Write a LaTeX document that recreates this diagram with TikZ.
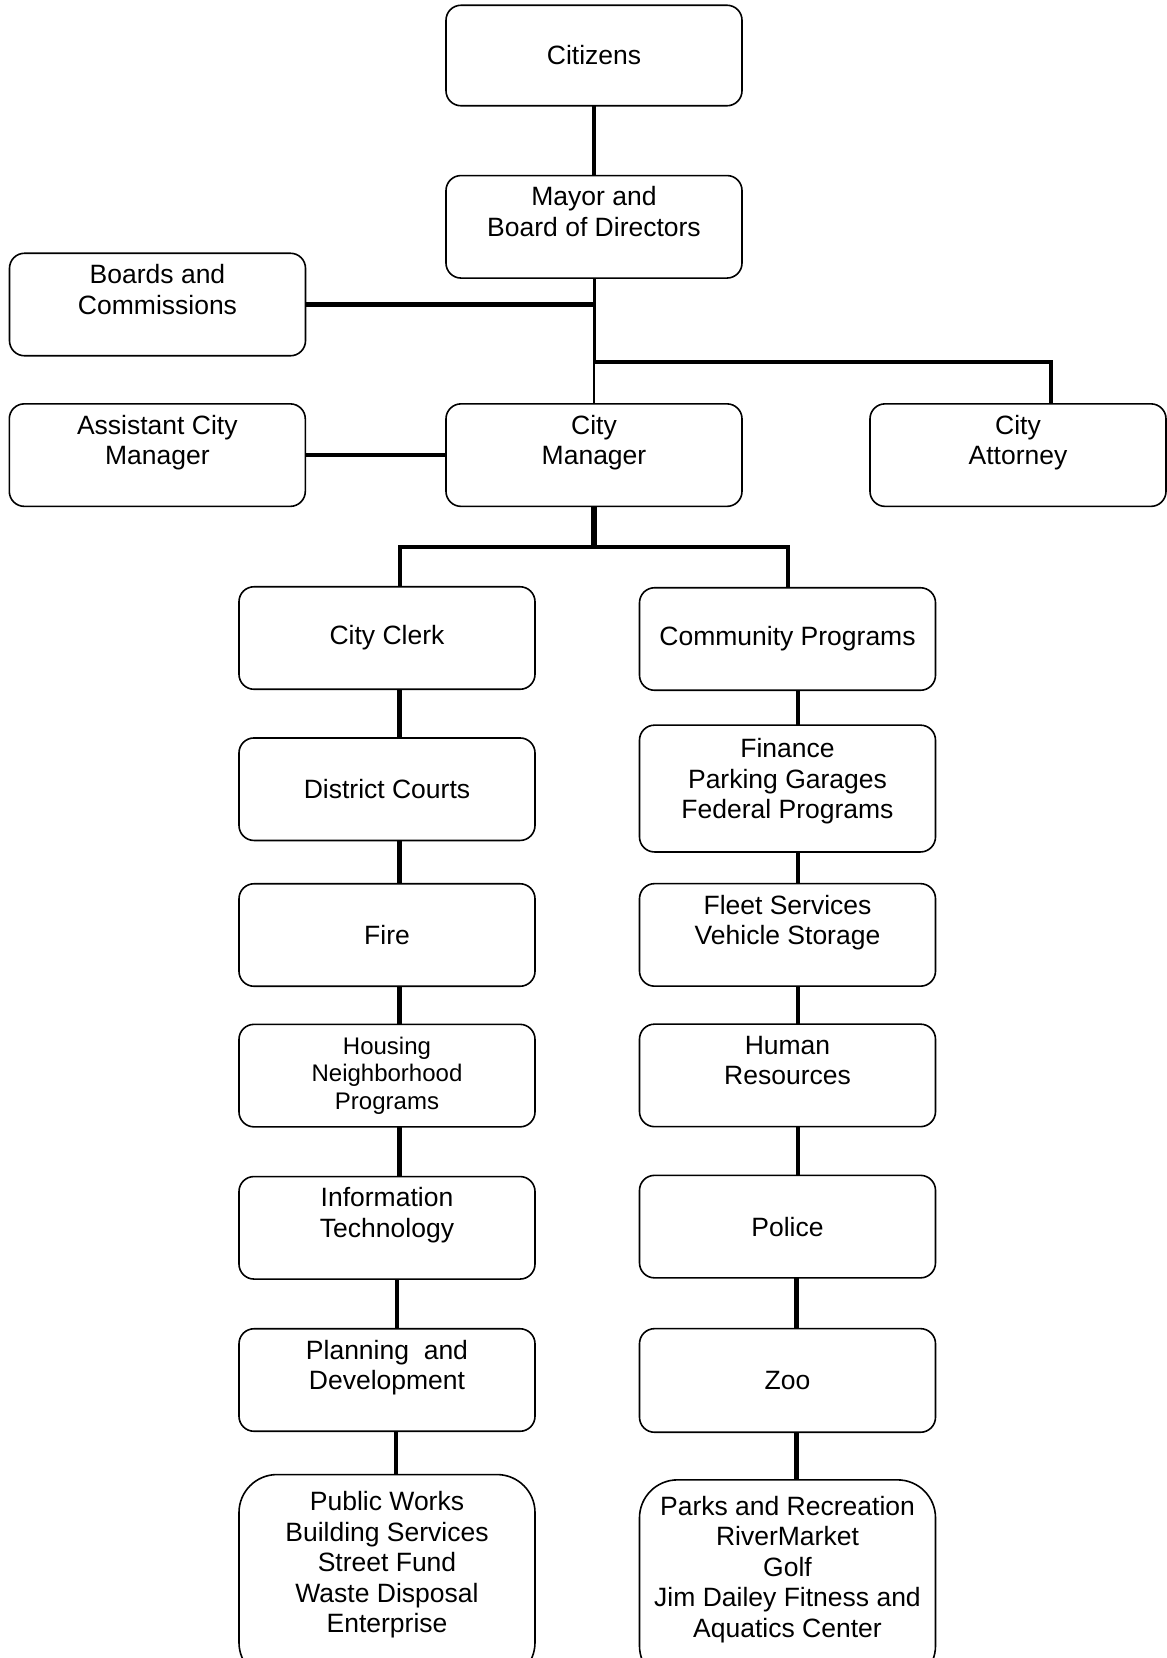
\documentclass[tikz,border=0pt]{standalone}
\usepackage{fontspec}
\setmainfont{Liberation Sans}
\usetikzlibrary{positioning}
\tikzstyle{unit}=[rectangle,rounded corners=15pt,draw=black,line width=1.6pt,align=center,minimum width=296pt,minimum height=102.5pt,inner sep=2pt,outer sep=0pt,font=\fontsize{26.5}{30.5}\selectfont]
\tikzstyle{bigunit}=[unit,rounded corners=38pt,minimum height=206pt]
\tikzstyle{link}=[line width=4.5pt]

\begin{document}
\begin{tikzpicture}[x=1pt,y=-1pt]
    \useasboundingbox (0,0) rectangle (1167,1658);
    \clip (0,0) rectangle (1167,1658);

    % Spitze
    \node[unit, minimum height=100.5pt] (citizens) at (594,55.5) {Citizens};
    \node[unit] (mayor) [below=69.8pt of citizens] {Mayor and\\Board of Directors\\~};
    \node[unit] (manager) [below=125.8pt of mayor] {City\\Manager\\~};
    \node[unit] (boards) at (157.5,304.5) {Boards and\\Commissions\\~};
    \node[unit] (assistant) [left=140.7pt of manager] {Assistant City\\Manager\\~};
    \node[unit] (attorney) [right=128pt of manager] {City\\Attorney\\~};

    % linke Spalte
    \node[unit] (clerk) at (387,638) {City Clerk};
    \node[unit] (courts) [below=48.7pt of clerk] {District Courts};
    \node[unit] (fire) [below=43.3pt of courts] {Fire};
    \node[unit, font=\fontsize{24}{27.6}\selectfont] (housing) [below=38.1pt of fire] {Housing\\Neighborhood\\Programs};
    \node[unit] (infotech) [below=49.7pt of housing] {Information\\Technology\\~};
    \node[unit] (planning) [below=49.7pt of infotech] {Planning\ \ and\\Development\\~};
    \node[bigunit] (works) [below=43.3pt of planning] {Public Works\\Building Services\\Street Fund\\Waste Disposal\\Enterprise\\~};

    % rechte Spalte
    \node[unit] (community) at (787.5,639) {Community Programs};
    \node[unit, minimum height=126.8pt] (finance) [below=34.9pt of community] {Finance\\Parking Garages\\Federal Programs\\[-11pt]~};
    \node[unit] (fleet) [below=31.7pt of finance] {Fleet Services\\Vehicle Storage\\~};
    \node[unit] (hr) [below=38pt of fleet] {Human\\Resources\\~};
    \node[unit] (police) [below=48.7pt of hr] {Police};
    \node[unit, minimum height=103.6pt] (zoo) [below=50.8pt of police] {Zoo};
    \node[bigunit, minimum height=204pt] (parks) [below=47.6pt of zoo] {Parks and Recreation\\RiverMarket\\Golf\\Jim Dailey Fitness and\\Aquatics Center\\~};

    % Verbindungen oben
    \coordinate (split) at ([yshift=-83.5pt]mayor.south);
    \coordinate (fork) at ([yshift=-41pt]manager.south);
    \draw [line width=4pt] (citizens) -- (mayor);
    \draw [line width=3pt] (mayor.south) -- (split);
    \draw [link] (boards.east) -- (boards.east -| mayor.south);
    \draw [line width=4pt] (split) -| ([xshift=33pt]attorney.north);
    \draw [line width=2pt] (split) -- (manager.north);
    \draw [link] (assistant) -- (manager);
    \draw [line width=5.5pt] (manager.south) -- (fork);
    \draw [line width=4pt] ([xshift=12.6pt]clerk.north) |- (fork) -| (community.north);

    % Verbindungen links
    \draw [link] ([xshift=12.6pt]clerk.south) -- ([xshift=12.6pt]courts.north);
    \draw [link] ([xshift=12.6pt]courts.south) -- ([xshift=12.6pt]fire.north);
    \draw [link] ([xshift=12.6pt]fire.south) -- ([xshift=12.6pt]housing.north);
    \draw [link] ([xshift=12.6pt]housing.south) -- ([xshift=12.6pt]infotech.north);
    \draw [link] ([xshift=10pt]infotech.south) -- ([xshift=10pt]planning.north);
    \draw [link] ([xshift=9pt]planning.south) -- ([xshift=9pt]works.north);

    % Verbindungen rechts
    \draw [link] ([xshift=10.5pt]community.south) -- ([xshift=10.5pt]finance.north);
    \draw [link] ([xshift=10.5pt]finance.south) -- ([xshift=10.5pt]fleet.north);
    \draw [link] ([xshift=10.5pt]fleet.south) -- ([xshift=10.5pt]hr.north);
    \draw [link] ([xshift=10.5pt]hr.south) -- ([xshift=10.5pt]police.north);
    \draw [link] ([xshift=9pt]police.south) -- ([xshift=9pt]zoo.north);
    \draw [link] ([xshift=9pt]zoo.south) -- ([xshift=9pt]parks.north);

\end{tikzpicture}
\end{document}
